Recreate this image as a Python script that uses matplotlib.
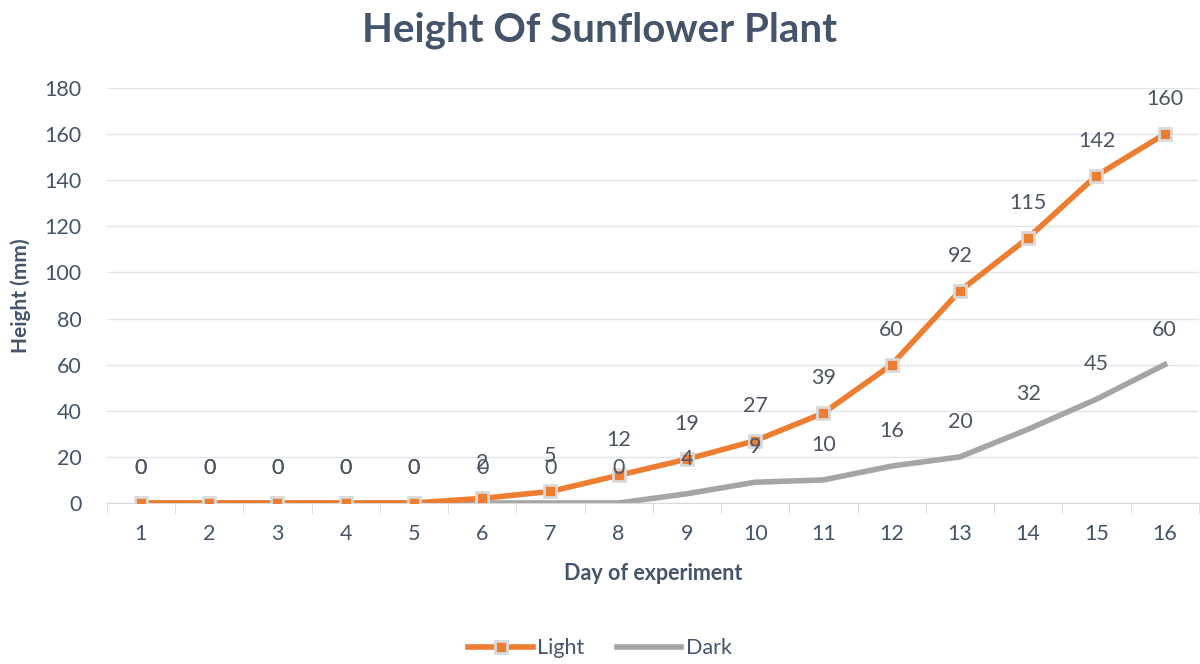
import matplotlib
matplotlib.use("Agg")
import matplotlib.pyplot as plt

days = list(range(1, 17))
light = [0, 0, 0, 0, 0, 2, 5, 12, 19, 27, 39, 60, 92, 115, 142, 160]
dark = [0, 0, 0, 0, 0, 0, 0, 0, 4, 9, 10, 16, 20, 32, 45, 60]

txt = "#44546A"
plt.rcParams['font.family'] = ['Lato', 'DejaVu Sans']

fig = plt.figure(figsize=(12, 6.64), dpi=100)
ax = fig.add_axes([0.089, 0.2425, 0.91, 0.625])

ax.plot(days, light, color="#ED7D31", lw=4, marker="s", ms=9,
        mfc="#ED7D31", mec="#D9D9D9", mew=2, label="Light", zorder=3)
ax.plot(days, dark, color="#A5A5A5", lw=4, label="Dark", zorder=2)

for d, v in zip(days, light):
    ax.annotate(str(v), (d, v), xytext=(0, 18), textcoords="offset points",
                ha="center", va="bottom", fontsize=15.5, color="#4D5563")
for d, v in zip(days, dark):
    ax.annotate(str(v), (d, v), xytext=(0, 18), textcoords="offset points",
                ha="center", va="bottom", fontsize=15.5, color="#4D5563")

ax.set_xlim(0.5, 16.5)
ax.set_ylim(0, 180)
ax.set_xticks(days)
ax.set_yticks(range(0, 181, 20))
ax.set_xticks([x + 0.5 for x in range(0, 17)], minor=True)
ax.tick_params(axis="x", which="major", length=0, pad=15, labelsize=15.5, labelcolor=txt)
ax.tick_params(axis="x", which="minor", length=8, color="#D9D9D9", direction="out")
ax.tick_params(axis="y", length=0, pad=18, labelsize=15.5, labelcolor=txt)
ax.grid(axis="y", color="#E1E5EB", lw=1)
ax.set_axisbelow(True)
for s in ["top", "right", "left"]:
    ax.spines[s].set_visible(False)
ax.spines["bottom"].set_color("#D9D9D9")

ax.set_xlabel("Day of experiment", fontsize=15.5, fontweight="bold", color=txt, labelpad=14)
ax.set_ylabel("Height (mm)", fontsize=15, fontweight="bold", color=txt, labelpad=10)
fig.text(0.5, 0.955, "Height Of Sunflower Plant", fontsize=29, fontweight="bold",
         color=txt, ha="center", va="center")

fig.legend(loc="center", ncol=2, frameon=False, fontsize=15.5,
           labelcolor=txt, bbox_to_anchor=(0.5, 0.024), handlelength=3,
           handletextpad=0.2, columnspacing=1.5)

fig.savefig("out.png", dpi=100)
